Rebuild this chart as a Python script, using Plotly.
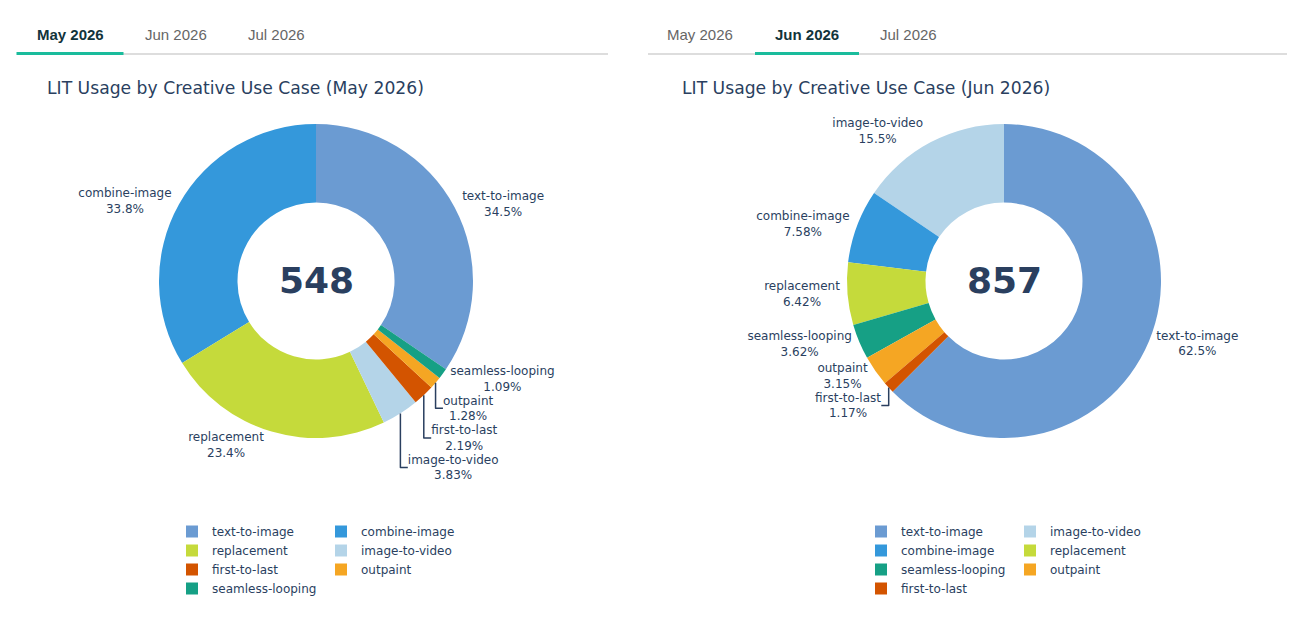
import plotly.graph_objects as go

# monthly usage counts per creative use case
may_labels = ['text-to-image', 'combine-image', 'replacement', 'image-to-video',
              'first-to-last', 'outpaint', 'seamless-looping']
may_values = [189, 185, 128, 21, 12, 7, 6]

jun_labels = ['text-to-image', 'image-to-video', 'combine-image', 'replacement',
              'seamless-looping', 'outpaint', 'first-to-last']
jun_values = [536, 133, 65, 55, 31, 27, 10]

months = ['May 2026', 'Jun 2026', 'Jul 2026']

colors = {
    'text-to-image': '#6b9bd2',
    'combine-image': '#3498db',
    'replacement': '#c5da3b',
    'image-to-video': '#b4d4e8',
    'first-to-last': '#d35400',
    'outpaint': '#f5a623',
    'seamless-looping': '#16a085',
}

# page body has an 8px margin, so the figure sits at (8, 8)
OFF = 8
W, H = 1308 - 2 * OFF, 620 - 2 * OFF
FONT = 'Verdana, DejaVu Sans, sans-serif'
TAB_FONT = 'Arial, Liberation Sans, sans-serif'


def px(x):
    return (x - OFF) / W


def py(y):
    return 1 - (y - OFF) / H


panels = [
    dict(labels=may_labels, values=may_values, month='May 2026', active=0,
         cx=316, left=17, right=608, tab_x=[70, 176, 276], tab_w=107,
         title_x=45, legends=['legend', 'legend2'], leg_x=[172, 321]),
    dict(labels=jun_labels, values=jun_values, month='Jun 2026', active=1,
         cx=1004, left=648, right=1287, tab_x=[700, 807, 908], tab_w=104,
         title_x=680, legends=['legend3', 'legend4'], leg_x=[861, 1010]),
]

fig = go.Figure()
shapes = []
annotations = []
layout_legends = {}
R = 157
cy = 281

for p in panels:
    total = sum(p['values'])
    fig.add_trace(go.Pie(
        labels=p['labels'], values=p['values'],
        marker=dict(colors=[colors[l] for l in p['labels']]),
        hole=0.5, sort=True, direction='counterclockwise',
        textinfo='label+percent', textposition='outside',
        textfont=dict(size=12, family=FONT, color='#2a3f5f'),
        domain=dict(x=[px(p['cx'] - 160), px(p['cx'] + 160)], y=[py(cy + R), py(cy - R)]),
        showlegend=False,
    ))
    annotations.append(dict(
        text=f'<b>{total}</b>', x=px(p['cx']), y=py(cy - 1), xref='paper', yref='paper',
        showarrow=False, xanchor='center', yanchor='middle',
        font=dict(size=36, family=FONT, color='#2a3f5f')))

    # legend entries split in two columns like the original grid
    for i, lab in enumerate(p['labels']):
        fig.add_trace(go.Scatter(
            x=[None], y=[None], mode='markers', name=lab,
            marker=dict(symbol='square', size=12, color=colors[lab]),
            legend=p['legends'][i % 2], hoverinfo='skip',
        ))
    for k, lg in enumerate(p['legends']):
        layout_legends[lg] = dict(
            x=px(p['leg_x'][k]), y=py(517), xanchor='left', yanchor='top',
            bgcolor='rgba(0,0,0,0)', font=dict(size=12, family=FONT, color='#2a3f5f'),
            tracegroupgap=0, itemclick=False, itemdoubleclick=False,
        )

    # tab strip
    shapes.append(dict(type='line', xref='paper', yref='paper',
                       x0=px(p['left']), x1=px(p['right']), y0=py(54), y1=py(54),
                       line=dict(color='#dddddd', width=2)))
    a = p['active']
    x0 = p['tab_x'][a] - p['tab_w'] / 2
    shapes.append(dict(type='line', xref='paper', yref='paper',
                       x0=px(x0), x1=px(x0 + p['tab_w']), y0=py(53.5), y1=py(53.5),
                       line=dict(color='#1abc9c', width=3)))
    for j, m in enumerate(months):
        annotations.append(dict(
            text=f'<b>{m}</b>' if j == a else m, x=px(p['tab_x'][j]), y=py(34),
            xref='paper', yref='paper', showarrow=False, xanchor='center', yanchor='middle',
            font=dict(size=15, family=TAB_FONT, color='#12343b' if j == a else '#666666')))

    annotations.append(dict(
        text=f"LIT Usage by Creative Use Case ({p['month']})", x=px(p['title_x']), y=py(88),
        xref='paper', yref='paper', showarrow=False, xanchor='left', yanchor='middle',
        font=dict(size=17.2, family=FONT, color='#2a3f5f')))

fig.update_layout(
    width=W, height=H, margin=dict(l=0, r=0, t=0, b=0),
    paper_bgcolor='white', plot_bgcolor='white',
    xaxis=dict(visible=False), yaxis=dict(visible=False),
    shapes=shapes, annotations=annotations,
    font=dict(family=FONT, color='#2a3f5f'),
    **layout_legends,
)

fig.write_html("out.html")
